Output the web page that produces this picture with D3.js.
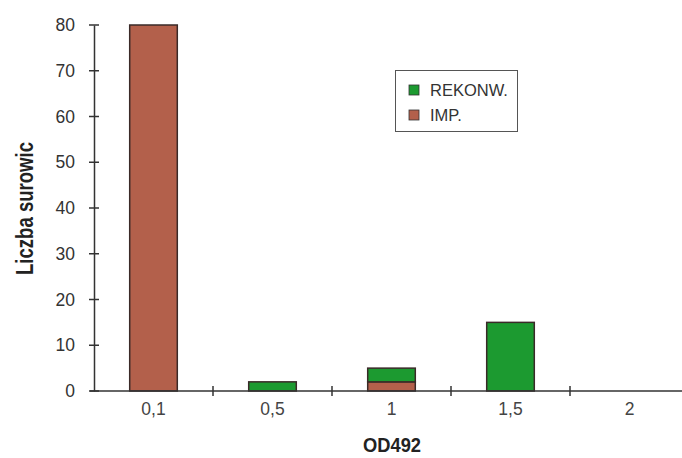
<!DOCTYPE html>
<html><head><meta charset="utf-8">
<script src="https://cdn.jsdelivr.net/npm/d3@7"></script>
<style>
body{margin:0;background:#fff;}
svg text{font-family:"Liberation Sans",Arial,sans-serif;}
</style></head>
<body><svg id="c" width="682" height="458"></svg>
<script>
const categories = ["0,1","0,5","1","1,5","2"];
const rekonw = [0, 2, 3, 15, 0];
const imp = [80, 0, 2, 0, 0];
const yTicks = [0,10,20,30,40,50,60,70,80];
const seriesNames = ["REKONW.","IMP."];
const colors = {"IMP.":"#b3604b","REKONW.":"#1c9a30"};

const svg = d3.select("#c");
const x = d3.scaleBand().domain(categories).range([94, 689]).paddingInner(0.6).paddingOuter(0.3);
const xb = d3.scaleBand().domain(categories).range([94, 689]);
const y = d3.scaleLinear().domain([0,80]).range([391,25]);

// bars
const stackData = categories.map((c,i)=>({cat:c,"IMP.":imp[i],"REKONW.":rekonw[i]}));
const stack = d3.stack().keys(["IMP.","REKONW."])(stackData);
svg.append("g").selectAll("g").data(stack).join("g")
  .attr("fill", d=>colors[d.key])
  .selectAll("rect").data(d=>d.filter(v=>v[1]-v[0]>0)).join("rect")
  .attr("x", d=>x(d.data.cat)).attr("width", x.bandwidth())
  .attr("y", d=>y(d[1])).attr("height", d=>y(d[0])-y(d[1]))
  .attr("stroke","#3a2a28").attr("stroke-width",1.5);

// y axis
const yAxis = svg.append("g").attr("transform","translate(94,0)")
  .call(d3.axisLeft(y).tickValues(yTicks).tickSize(0).tickPadding(19));
yAxis.select(".domain").attr("stroke","#333").attr("stroke-width",1.5);
yAxis.selectAll("text").attr("font-size",17.5).attr("fill","#333")
  .attr("font-family","'Liberation Sans',Arial,sans-serif");
svg.append("g").selectAll("line").data(yTicks).join("line")
  .attr("x1",89).attr("x2",99).attr("y1",d=>y(d)).attr("y2",d=>y(d))
  .attr("stroke","#333").attr("stroke-width",1.5);

// x axis
svg.append("line").attr("x1",90).attr("x2",682).attr("y1",y(0)).attr("y2",y(0))
  .attr("stroke","#333").attr("stroke-width",1.5);
svg.append("g").selectAll("line").data(categories.slice(1)).join("line")
  .attr("x1",d=>xb(d)).attr("x2",d=>xb(d)).attr("y1",y(0)-5).attr("y2",y(0)+5)
  .attr("stroke","#333").attr("stroke-width",1.5);
svg.append("g").selectAll("text").data(categories).join("text")
  .attr("x",d=>xb(d)+xb.bandwidth()/2).attr("y",415)
  .attr("text-anchor","middle").attr("font-size",17.5).attr("fill","#444").text(d=>d);

// titles
svg.append("text").attr("transform","translate(33,142) rotate(-90)")
  .attr("x",-133).attr("y",0)
  .attr("font-size",24).attr("font-weight","bold").attr("fill","#222")
  .attr("textLength",133).attr("lengthAdjust","spacingAndGlyphs")
  .text("Liczba surowic");
svg.append("text").attr("x",363).attr("y",452)
  .attr("font-size",20).attr("font-weight","bold").attr("fill","#222")
  .attr("textLength",58).attr("lengthAdjust","spacingAndGlyphs").text("OD492");

// legend
const lg = svg.append("g");
lg.append("rect").attr("x",395.5).attr("y",70.5).attr("width",122).attr("height",61)
  .attr("fill","#fff").attr("stroke","#555").attr("stroke-width",1);
seriesNames.forEach((s,i)=>{
  lg.append("rect").attr("x",409).attr("y",85+i*25).attr("width",10).attr("height",10)
    .attr("fill",colors[s]).attr("stroke","#333").attr("stroke-width",0.8);
  lg.append("text").attr("x",430).attr("y",96+i*25)
    .attr("font-size",16.5).attr("fill","#333").text(s);
});
</script></body></html>
